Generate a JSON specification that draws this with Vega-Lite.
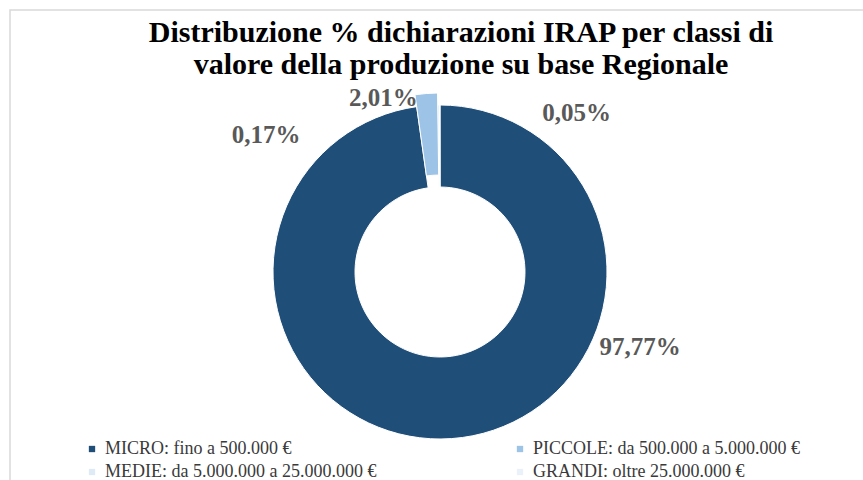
{
  "$schema": "https://vega.github.io/schema/vega-lite/v6.json",
  "width": 860,
  "height": 524,
  "autosize": {"type": "none"},
  "padding": {"left": 10, "top": 10, "right": -7, "bottom": -54},
  "background": "white",
  "view": {"stroke": "#D9D9D9", "strokeWidth": 1.5, "fill": "white"},
  "title": {
    "text": ["Distribuzione % dichiarazioni IRAP per classi di", "valore della produzione su base Regionale"],
    "font": "Liberation Serif",
    "fontSize": 30,
    "fontWeight": "bold",
    "color": "#000000",
    "anchor": "middle",
    "frame": "group",
    "offset": -70,
    "dx": 21,
    "lineHeight": 32
  },
  "data": {
    "values": [
      {"classe": "MICRO: fino a 500.000 €", "pct": 97.77, "label": "97,77%", "ordine": 1},
      {"classe": "PICCOLE: da 500.000  a 5.000.000  €", "pct": 2.01, "label": "2,01%", "ordine": 2},
      {"classe": "MEDIE: da 5.000.000  a 25.000.000  €", "pct": 0.17, "label": "0,17%", "ordine": 3},
      {"classe": "GRANDI: oltre 25.000.000 €", "pct": 0.05, "label": "0,05%", "ordine": 4}
    ]
  },
  "transform": [
    {"stack": "pct", "groupby": [], "sort": [{"field": "ordine", "order": "ascending"}], "as": ["t0", "t1"]}
  ],
  "layer": [
    {
      "transform": [{"filter": "datum.ordine != 2"}],
      "mark": {"type": "arc", "radius": 167, "radius2": 85, "stroke": "white", "strokeWidth": 1},
      "encoding": {
        "theta": {"field": "t0", "type": "quantitative", "scale": {"domain": [0, 100]}},
        "theta2": {"field": "t1"},
        "color": {
          "field": "classe",
          "type": "nominal",
          "sort": null,
          "scale": {
            "domain": ["MICRO: fino a 500.000 €", "PICCOLE: da 500.000  a 5.000.000  €", "MEDIE: da 5.000.000  a 25.000.000  €", "GRANDI: oltre 25.000.000 €"],
            "range": ["#1F4E79", "#9DC3E6", "#DEEBF7", "#EBF1F9"]
          },
          "legend": {
            "orient": "none",
            "direction": "horizontal",
            "legendX": 73,
            "legendY": 430,
            "columns": 2,
            "title": null,
            "symbolType": "square",
            "symbolSize": 40,
            "symbolStrokeWidth": 0,
            "labelFont": "Liberation Serif",
            "labelFontSize": 18,
            "labelColor": "#3A3A3A",
            "labelLimit": 0,
            "labelOffset": 4,
            "columnPadding": 125,
            "rowPadding": 5
          }
        }
      }
    },
    {
      "transform": [{"filter": "datum.ordine == 2"}],
      "mark": {"type": "arc", "radius": 179, "radius2": 97, "stroke": "white", "strokeWidth": 1},
      "encoding": {
        "theta": {"field": "t0", "type": "quantitative", "scale": {"domain": [0, 100]}},
        "theta2": {"field": "t1"},
        "color": {"field": "classe", "type": "nominal", "sort": null}
      }
    },
    {
      "transform": [{"filter": "datum.ordine == 1"}],
      "mark": {"type": "text", "radius": 0, "dx": 200, "dy": 75, "font": "Liberation Serif", "fontSize": 25, "fontWeight": "bold", "color": "#595959", "align": "center", "baseline": "middle"},
      "encoding": {
        "theta": {"field": "t0", "type": "quantitative", "scale": {"domain": [0, 100]}},
        "text": {"field": "label"}
      }
    },
    {
      "transform": [{"filter": "datum.ordine == 2"}],
      "mark": {"type": "text", "radius": 176, "dx": -32, "dy": 0, "font": "Liberation Serif", "fontSize": 25, "fontWeight": "bold", "color": "#595959", "align": "center", "baseline": "middle"},
      "encoding": {
        "theta": {"field": "t0", "type": "quantitative", "scale": {"domain": [0, 100]}},
        "text": {"field": "label"}
      }
    },
    {
      "transform": [{"filter": "datum.ordine == 3"}],
      "mark": {"type": "text", "radius": 137, "dx": -172, "dy": 0, "font": "Liberation Serif", "fontSize": 25, "fontWeight": "bold", "color": "#595959", "align": "center", "baseline": "middle"},
      "encoding": {
        "theta": {"field": "t0", "type": "quantitative", "scale": {"domain": [0, 100]}},
        "text": {"field": "label"}
      }
    },
    {
      "transform": [{"filter": "datum.ordine == 4"}],
      "mark": {"type": "text", "radius": 159, "dx": 137, "dy": 0, "font": "Liberation Serif", "fontSize": 25, "fontWeight": "bold", "color": "#595959", "align": "center", "baseline": "middle"},
      "encoding": {
        "theta": {"field": "t0", "type": "quantitative", "scale": {"domain": [0, 100]}},
        "text": {"field": "label"}
      }
    }
  ]
}
